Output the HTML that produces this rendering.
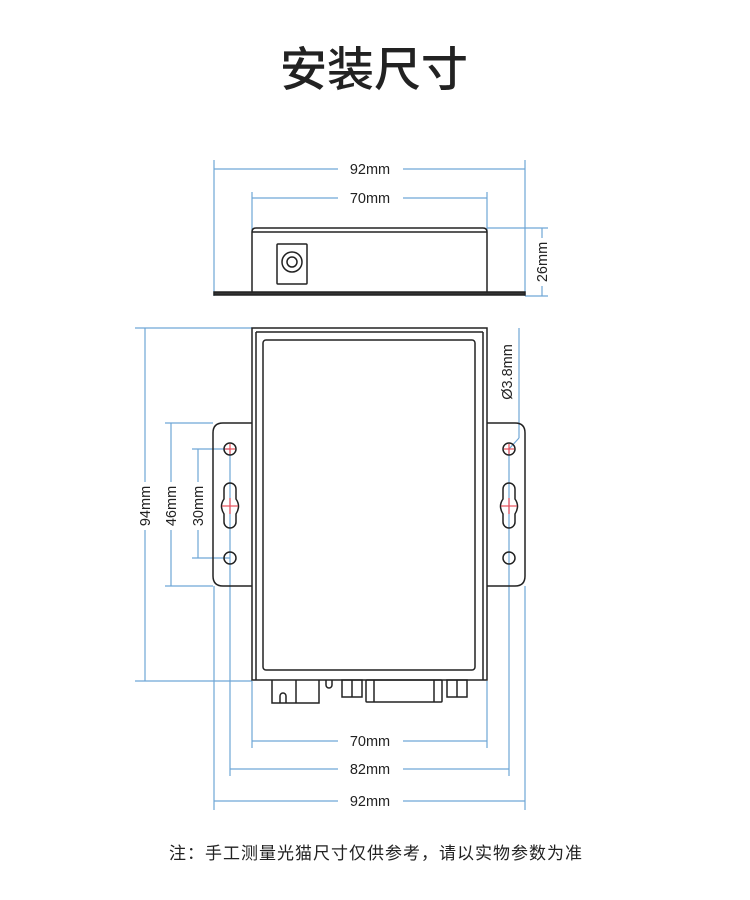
<!DOCTYPE html>
<html><head><meta charset="utf-8"><style>
html,body{margin:0;padding:0;background:#fff;width:750px;height:900px;overflow:hidden}
svg{display:block}
text{font-family:"Liberation Sans","Noto Sans CJK SC",sans-serif;fill:#222}
</style></head><body>
<svg width="750" height="900" viewBox="0 0 750 900" xmlns="http://www.w3.org/2000/svg">
<text x="374" y="86" font-size="47" font-weight="500" text-anchor="middle">安装尺寸</text>

<g stroke="#6fa6d6" stroke-width="1.2" fill="none">
 <line x1="214" y1="160" x2="214" y2="296"/><line x1="525" y1="160" x2="525" y2="296"/>
 <line x1="214" y1="169" x2="338" y2="169"/><line x1="403" y1="169" x2="525" y2="169"/>
 <line x1="252" y1="192" x2="252" y2="232"/><line x1="487" y1="192" x2="487" y2="232"/>
 <line x1="252" y1="198" x2="338" y2="198"/><line x1="403" y1="198" x2="487" y2="198"/>
 <line x1="487" y1="228" x2="548" y2="228"/><line x1="525" y1="296" x2="548" y2="296"/>
 <line x1="542" y1="228" x2="542" y2="238"/><line x1="542" y1="286" x2="542" y2="296"/>
 <line x1="135" y1="328" x2="252" y2="328"/><line x1="135" y1="681" x2="252" y2="681"/>
 <line x1="145" y1="328" x2="145" y2="482"/><line x1="145" y1="530" x2="145" y2="681"/>
 <line x1="165" y1="423" x2="213" y2="423"/><line x1="165" y1="586" x2="213" y2="586"/>
 <line x1="171" y1="423" x2="171" y2="482"/><line x1="171" y1="530" x2="171" y2="586"/>
 <line x1="192" y1="449" x2="230" y2="449"/><line x1="192" y1="558" x2="230" y2="558"/>
 <line x1="198" y1="449" x2="198" y2="482"/><line x1="198" y1="530" x2="198" y2="558"/>
 <line x1="230" y1="449" x2="230" y2="776"/><line x1="252" y1="681" x2="252" y2="748"/>
 <line x1="509" y1="449" x2="509" y2="776"/><line x1="487" y1="681" x2="487" y2="748"/>
 <line x1="214" y1="586" x2="214" y2="810"/><line x1="525" y1="586" x2="525" y2="810"/>
 <line x1="519" y1="328" x2="519" y2="438"/><line x1="519" y1="438" x2="509" y2="449"/>
 <line x1="252" y1="741" x2="338" y2="741"/><line x1="403" y1="741" x2="487" y2="741"/>
 <line x1="230" y1="769" x2="338" y2="769"/><line x1="403" y1="769" x2="509" y2="769"/>
 <line x1="214" y1="801" x2="338" y2="801"/><line x1="403" y1="801" x2="525" y2="801"/>
</g>
<g font-size="14.5">
 <text x="370" y="174" text-anchor="middle">92mm</text>
 <text x="370" y="203" text-anchor="middle">70mm</text>
 <text x="370" y="746" text-anchor="middle">70mm</text>
 <text x="370" y="774" text-anchor="middle">82mm</text>
 <text x="370" y="806" text-anchor="middle">92mm</text>
 <text transform="translate(547,262) rotate(-90)" text-anchor="middle">26mm</text>
 <text transform="translate(150,506) rotate(-90)" text-anchor="middle">94mm</text>
 <text transform="translate(176,506) rotate(-90)" text-anchor="middle">46mm</text>
 <text transform="translate(203,506) rotate(-90)" text-anchor="middle">30mm</text>
 <text transform="translate(512,372) rotate(-90)" text-anchor="middle">Ø3.8mm</text>
</g>

<g stroke="#222" stroke-width="1.5" fill="none">
 <path d="M252,292 V232 Q252,228 256,228 H483 Q487,228 487,232 V292"/>
 <line x1="252" y1="232" x2="487" y2="232"/>
 <rect x="214" y="292" width="311" height="3" fill="#333"/>
 <rect x="277" y="244" width="30" height="40" rx="1"/>
 <circle cx="292" cy="262" r="10"/><circle cx="292" cy="262" r="5"/>
 <rect x="252" y="328" width="235" height="352"/>
 <line x1="256" y1="332" x2="256" y2="680"/><line x1="483" y1="332" x2="483" y2="680"/>
 <line x1="256" y1="332" x2="483" y2="332"/>
 <rect x="263" y="340" width="212" height="330" rx="3"/>
 <path d="M252,423 H223 Q213,423 213,433 V576 Q213,586 223,586 H252"/>
 <path d="M487,423 H515 Q525,423 525,433 V576 Q525,586 515,586 H487"/>
 <circle cx="230" cy="449" r="6"/><circle cx="230" cy="558" r="6"/>
 <circle cx="509" cy="449" r="6"/><circle cx="509" cy="558" r="6"/>
 <path d="M224,489 A6,6 0 0 1 236,489 V499 Q241,506 236,514 V522 A6,6 0 0 1 224,522 V514 Q219,506 224,499 Z"/>
 <path d="M503,489 A6,6 0 0 1 515,489 V499 Q520,506 515,514 V522 A6,6 0 0 1 503,522 V514 Q498,506 503,499 Z"/>
 <path d="M272,680 V703 H319 V680"/><line x1="296" y1="680" x2="296" y2="703"/>
 <path d="M280,703 V696 A3,3 0 0 1 286,696 V703"/>
 <path d="M326,680 V685 A3,3 0 0 0 332,685 V680"/>
 <rect x="342" y="680" width="20" height="17"/><line x1="352" y1="680" x2="352" y2="697"/>
 <rect x="366" y="680" width="76" height="22" rx="1"/>
 <line x1="374" y1="680" x2="374" y2="702"/><line x1="434" y1="680" x2="434" y2="702"/>
 <rect x="447" y="680" width="20" height="17"/><line x1="457" y1="680" x2="457" y2="697"/>
</g>
<g stroke="#e8505b" stroke-width="1.2">
 <line x1="225" y1="449" x2="235" y2="449"/><line x1="230" y1="444" x2="230" y2="454"/>
 <line x1="504" y1="449" x2="514" y2="449"/><line x1="509" y1="444" x2="509" y2="454"/>
 <line x1="222" y1="506" x2="238" y2="506"/><line x1="230" y1="498" x2="230" y2="514"/>
 <line x1="501" y1="506" x2="517" y2="506"/><line x1="509" y1="498" x2="509" y2="514"/>
</g>
<text x="376" y="859" font-size="17" letter-spacing="1" text-anchor="middle">注：手工测量光猫尺寸仅供参考，请以实物参数为准</text>
</svg>
</body></html>
